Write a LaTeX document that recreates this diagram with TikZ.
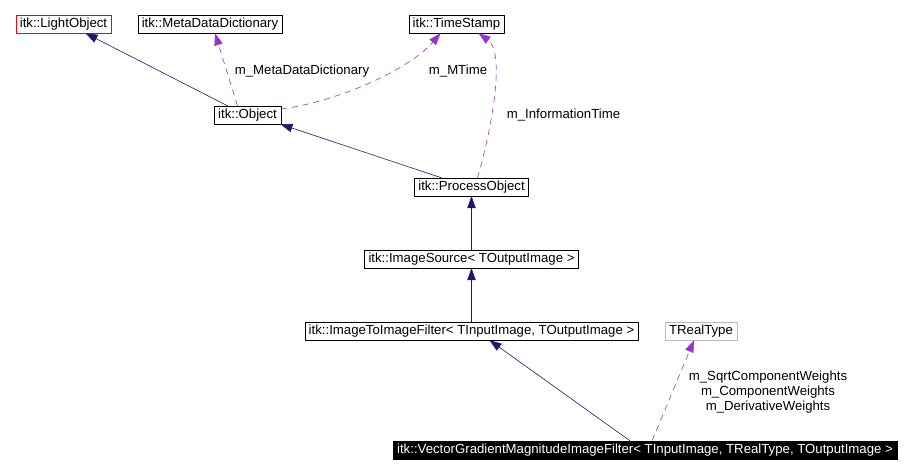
\documentclass[tikz,border=0pt]{standalone}
\usepackage{fontspec}
\setmainfont{Liberation Sans}
\usepackage{xcolor}
\usetikzlibrary{arrows.meta}

\definecolor{inhblue}{HTML}{191970}
\definecolor{usepurple}{HTML}{9A32CD}

\begin{document}
\begin{tikzpicture}[x=1pt, y=-1pt, >={Triangle[length=12pt,width=8.5pt]},
		cls/.style={draw, minimum height=18pt, inner xsep=4pt, inner ysep=0pt, font=\fontsize{13.2}{15}\selectfont},
		inh/.style={->, draw=inhblue, line width=0.6pt},
		usage/.style={->, draw=usepurple, line width=0.6pt, dash pattern=on 6pt off 5pt},
		lbl/.style={font=\fontsize{13.2}{15}\selectfont, align=center}]
		\useasboundingbox (0,0) rectangle (909,475);

		% Classes
		\node[cls, draw=red] (light) at (63.5,24) {itk::LightObject};
		\node[cls] (meta) at (210,24) {itk::MetaDataDictionary};
		\node[cls] (stamp) at (456.5,24) {itk::TimeStamp};
		\node[cls] (object) at (247.5,115) {itk::Object};
		\node[cls] (process) at (471.5,187) {itk::ProcessObject};
		\node[cls] (source) at (471.5,259) {itk::ImageSource< TOutputImage >};
		\node[cls] (imgfilter) at (471.5,331) {itk::ImageToImageFilter< TInputImage, TOutputImage >};
		\node[cls, draw=gray!55] (realtype) at (701,331) {TRealType};
		\node[cls, fill=black, text=white] (vecgrad) at (645,450) {itk::VectorGradientMagnitudeImageFilter< TInputImage, TRealType, TOutputImage >};

		% Inheritance
		\draw[inh] ([xshift=-20pt]object.north) -- ([xshift=22pt]light.south);
		\draw[inh] ([xshift=-30pt]process.north) -- ([xshift=33pt]object.south);
		\draw[inh] (source) -- (process);
		\draw[inh] (imgfilter) -- (source);
		\draw[inh] ([xshift=-15pt]vecgrad.north) -- ([xshift=18pt]imgfilter.south);

		% Members
		\draw[usage] ([xshift=-10pt]object.north) -- ([xshift=5pt]meta.south);
		\draw[usage] ([yshift=6pt]object.east) .. controls +(60,-8) and +(-30,35) .. ([xshift=-16pt]stamp.south);
		\draw[usage] ([xshift=6pt]process.north) .. controls +(18,-63) and +(25,18) .. ([xshift=22pt]stamp.south);
		\draw[usage] ([xshift=7pt]vecgrad.north) -- ([xshift=-7pt]realtype.south);

		% Member names
		\node[lbl] (lmeta) at (302,71) {m\_MetaDataDictionary};
		\node[lbl] (ltime) at (458,71) {m\_MTime};
		\node[lbl] (linfo) at (563.5,115) {m\_InformationTime};
		\node[lbl] (lweights) at (768,392) {m\_SqrtComponentWeights\\m\_ComponentWeights\\m\_DerivativeWeights};
	\end{tikzpicture}
\end{document}
